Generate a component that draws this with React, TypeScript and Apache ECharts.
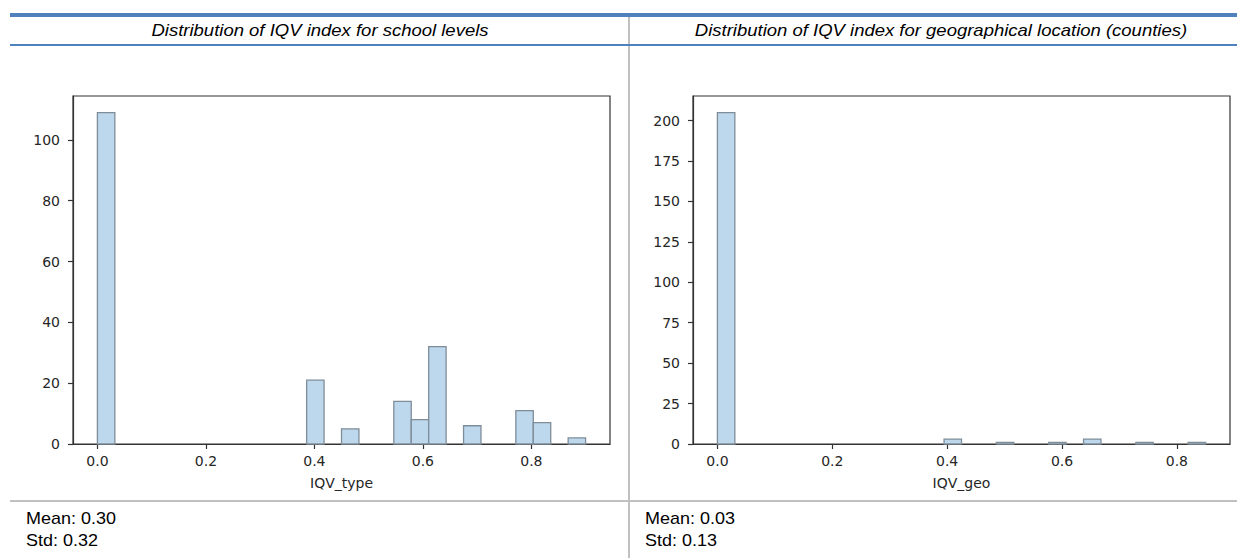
import React, { useEffect, useRef } from "react";
import * as echarts from "echarts";

// ---- data ----
const typeTitle = "Distribution of IQV index for school levels";
const geoTitle = "Distribution of IQV index for geographical location (counties)";
const typeAxisName = "IQV_type";
const geoAxisName = "IQV_geo";
// 28 histogram bins over [0, 0.9]
const typeBinRange = [0, 0.9];
const typeCounts = [109, 0, 0, 0, 0, 0, 0, 0, 0, 0, 0, 0, 21, 0, 5, 0, 0, 14, 8, 32, 0, 6, 0, 0, 11, 7, 0, 2];
// 28 histogram bins over [0, 0.85]
const geoBinRange = [0, 0.85];
const geoCounts = [205, 0, 0, 0, 0, 0, 0, 0, 0, 0, 0, 0, 0, 3, 0, 0, 1, 0, 0, 1, 0, 3, 0, 0, 1, 0, 0, 1];
const xTicks = [0, 0.2, 0.4, 0.6, 0.8];
const typeYTicks = [0, 20, 40, 60, 80, 100];
const geoYTicks = [0, 25, 50, 75, 100, 125, 150, 175, 200];
const typeStats = ["Mean: 0.30", "Std: 0.32"];
const geoStats = ["Mean: 0.03", "Std: 0.13"];

function toBins(counts: number[], range: number[]) {
  const w = (range[1] - range[0]) / counts.length;
  return counts.map((c, i) => [range[0] + i * w, range[0] + (i + 1) * w, c]);
}

const FILL = "#bdd7ec";
const EDGE = "#7f8d99";
const TXT = "#262626";

function renderBar(params: any, api: any) {
  const c = api.value(2);
  if (!c) return null;
  const p0 = api.coord([api.value(0), c]);
  const p1 = api.coord([api.value(1), 0]);
  return {
    type: "rect",
    shape: { x: p0[0], y: p0[1], width: p1[0] - p0[0], height: p1[1] - p0[1] },
    style: { fill: FILL, stroke: EDGE, lineWidth: 1.3 },
  };
}

function xAxisFor(gridIndex: number, min: number, max: number, name: string) {
  return {
    type: "value",
    gridIndex,
    min,
    max,
    name,
    nameLocation: "middle",
    nameGap: 32,
    nameTextStyle: { fontFamily: "DejaVu Sans", fontSize: 14, color: TXT },
    axisLine: { show: true, onZero: false, lineStyle: { color: "#333", width: 1.2 } },
    axisTick: { show: true, inside: false, length: 5, customValues: xTicks, lineStyle: { color: "#333", width: 1.2 } },
    axisLabel: {
      customValues: xTicks,
      formatter: (v: number) => v.toFixed(1),
      margin: 10,
      fontFamily: "DejaVu Sans",
      fontSize: 14,
      color: TXT,
    },
    splitLine: { show: false },
  };
}

function yAxisFor(gridIndex: number, max: number, ticks: number[]) {
  return {
    type: "value",
    gridIndex,
    min: 0,
    max,
    axisLine: { show: true, onZero: false, lineStyle: { color: "#333", width: 1.2 } },
    axisTick: { show: true, inside: false, length: 5, customValues: ticks, lineStyle: { color: "#333", width: 1.2 } },
    axisLabel: {
      customValues: ticks,
      margin: 13,
      fontFamily: "DejaVu Sans",
      fontSize: 14,
      color: TXT,
    },
    splitLine: { show: false },
  };
}

function textEl(x: number, y: number, text: string, opts: any) {
  return {
    type: "text",
    x,
    y,
    scaleY: opts.scaleY ?? 1,
    silent: true,
    style: {
      x: 0,
      y: 0,
      text,
      fill: "#000",
      fontFamily: "Liberation Sans, Arial, sans-serif",
      fontSize: opts.fontSize,
      fontStyle: opts.italic ? "italic" : "normal",
      align: opts.align ?? "left",
      verticalAlign: "middle",
    },
  };
}

export default function App() {
  const ref = useRef<HTMLDivElement>(null);
  useEffect(() => {
    if (!ref.current) return;
    const chart = echarts.init(ref.current, null, { renderer: "svg" });
    const typeMax = Math.max(...typeCounts) * 1.05;
    const geoMax = Math.max(...geoCounts) * 1.05;
    const typePad = (typeBinRange[1] - typeBinRange[0]) * 0.05;
    const geoPad = (geoBinRange[1] - geoBinRange[0]) * 0.05;
    chart.setOption({
      animation: false,
      backgroundColor: "#fff",
      grid: [
        { left: 73, top: 96, width: 537, height: 348, show: true, borderColor: "#333", borderWidth: 1.2, backgroundColor: "transparent" },
        { left: 693, top: 96, width: 537, height: 348, show: true, borderColor: "#333", borderWidth: 1.2, backgroundColor: "transparent" },
      ],
      xAxis: [
        xAxisFor(0, typeBinRange[0] - typePad, typeBinRange[1] + typePad, typeAxisName),
        xAxisFor(1, geoBinRange[0] - geoPad, geoBinRange[1] + geoPad, geoAxisName),
      ],
      yAxis: [yAxisFor(0, typeMax, typeYTicks), yAxisFor(1, geoMax, geoYTicks)],
      series: [
        {
          type: "custom",
          xAxisIndex: 0,
          yAxisIndex: 0,
          renderItem: renderBar,
          encode: { x: [0, 1], y: 2 },
          data: toBins(typeCounts, typeBinRange),
        },
        {
          type: "custom",
          xAxisIndex: 1,
          yAxisIndex: 1,
          renderItem: renderBar,
          encode: { x: [0, 1], y: 2 },
          data: toBins(geoCounts, geoBinRange),
        },
      ],
      graphic: [
        { type: "rect", silent: true, shape: { x: 10, y: 13, width: 1227, height: 4 }, style: { fill: "#4f81bd" } },
        { type: "rect", silent: true, shape: { x: 628, y: 17, width: 2, height: 541 }, style: { fill: "#c0c0c0" } },
        { type: "rect", silent: true, shape: { x: 10, y: 44, width: 1227, height: 2 }, style: { fill: "#4f81bd" } },
        { type: "rect", silent: true, shape: { x: 10, y: 500, width: 1227, height: 2 }, style: { fill: "#c0c0c0" } },
        textEl(320, 30, typeTitle, { fontSize: 18.5, italic: true, align: "center", scaleY: 0.87 }),
        textEl(941, 30, geoTitle, { fontSize: 18.5, italic: true, align: "center", scaleY: 0.87 }),
        textEl(26, 518.5, typeStats[0], { fontSize: 18, scaleY: 0.9 }),
        textEl(26, 541, typeStats[1], { fontSize: 18, scaleY: 0.9 }),
        textEl(645, 518.5, geoStats[0], { fontSize: 18, scaleY: 0.9 }),
        textEl(645, 541, geoStats[1], { fontSize: 18, scaleY: 0.9 }),
      ],
    });
    return () => chart.dispose();
  }, []);
  return (
    <div
      ref={ref}
      style={{ position: "fixed", left: 0, top: 0, width: 1237, height: 558, background: "#fff" }}
    />
  );
}
